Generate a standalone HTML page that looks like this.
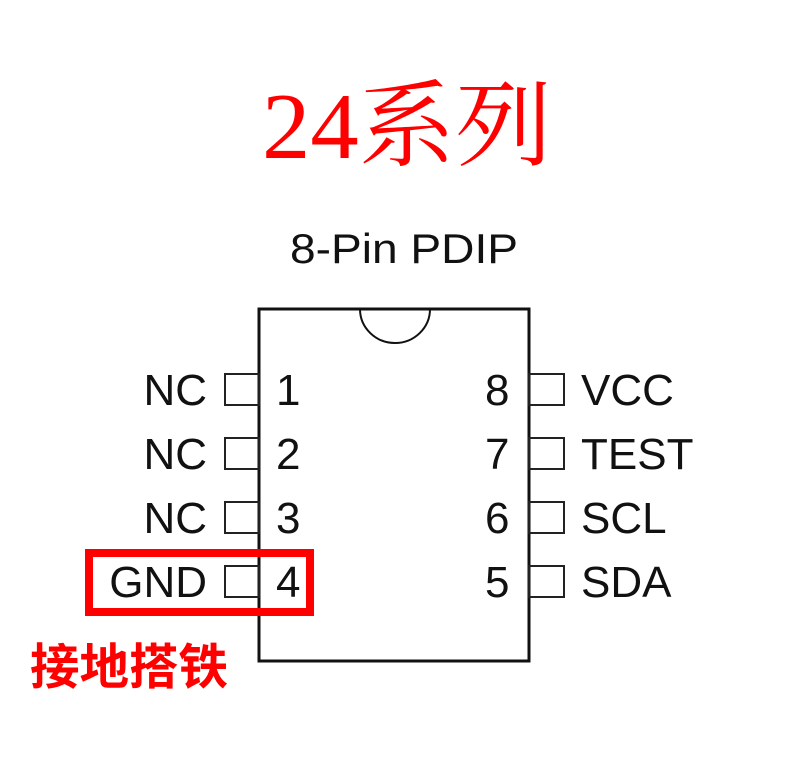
<!DOCTYPE html>
<html><head><meta charset="utf-8"><style>
html,body{margin:0;padding:0;background:#fff;width:800px;height:770px;overflow:hidden}
</style></head><body>
<svg width="800" height="770" viewBox="0 0 800 770" xmlns="http://www.w3.org/2000/svg">
<rect width="800" height="770" fill="#fff"/>
<text x="262" y="158" font-family="Liberation Serif, Noto Serif CJK SC, serif" font-size="94" fill="#ff0000" textLength="290" lengthAdjust="spacingAndGlyphs">24系列</text>
<text x="290" y="263" font-family="Liberation Sans, sans-serif" font-size="42" fill="#111" textLength="228" lengthAdjust="spacingAndGlyphs">8-Pin PDIP</text>
<rect x="259" y="309" width="270" height="352" fill="none" stroke="#111" stroke-width="3"/>
<path d="M360 309 A35 34 0 0 0 430 309" fill="none" stroke="#111" stroke-width="2"/>
<g fill="none" stroke="#222" stroke-width="2">
<rect x="225" y="374" width="34" height="31"/>
<rect x="225" y="438" width="34" height="31"/>
<rect x="225" y="502" width="34" height="31"/>
<rect x="225" y="566" width="34" height="31"/>
<rect x="529" y="374" width="35" height="31"/>
<rect x="529" y="438" width="35" height="31"/>
<rect x="529" y="502" width="35" height="31"/>
<rect x="529" y="566" width="35" height="31"/>
</g>
<g font-family="Liberation Sans, sans-serif" font-size="44" fill="#111">
<text x="207" y="405" text-anchor="end">NC</text>
<text x="207" y="469" text-anchor="end">NC</text>
<text x="207" y="533" text-anchor="end">NC</text>
<text x="207" y="597" text-anchor="end">GND</text>
<text x="276" y="405">1</text>
<text x="276" y="469">2</text>
<text x="276" y="533">3</text>
<text x="276" y="597">4</text>
<text x="485" y="405">8</text>
<text x="485" y="469">7</text>
<text x="485" y="533">6</text>
<text x="485" y="597">5</text>
<text x="581" y="405">VCC</text>
<text x="581" y="469">TEST</text>
<text x="581" y="533">SCL</text>
<text x="581" y="597">SDA</text>
</g>
<rect x="89" y="553" width="221" height="59" fill="none" stroke="#ff0000" stroke-width="8"/>
<text x="30" y="684" font-family="Liberation Sans, Noto Sans CJK SC, sans-serif" font-weight="bold" font-size="49" fill="#ff0000" textLength="198" lengthAdjust="spacingAndGlyphs">接地搭铁</text>
</svg>
</body></html>
